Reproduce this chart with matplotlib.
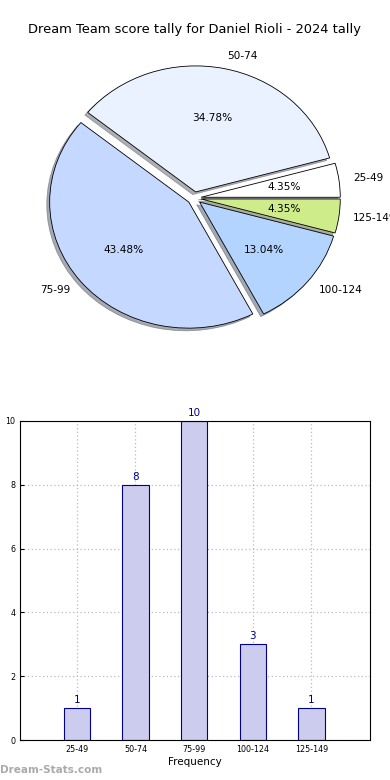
import matplotlib
matplotlib.use("Agg")
import matplotlib.pyplot as plt

categories = ["25-49", "50-74", "75-99", "100-124", "125-149"]
counts = [1, 8, 10, 3, 1]
pie_colors = ["#ffffff", "#eaf1ff", "#c5d8ff", "#b3d4ff", "#cfec8a"]
title = "Dream Team score tally for Daniel Rioli - 2024 tally"

fig = plt.figure(figsize=(3.9, 7.8), dpi=100)
fig.text(0.5, 1 - 30 / 780, title, ha="center", va="center", fontsize=9.4)

ax1 = fig.add_axes([0.052, 0.544, 0.892, 0.404])
wedges, texts, autotexts = ax1.pie(
    counts, labels=categories, colors=pie_colors, autopct="%.2f%%",
    explode=[0.05] * len(counts), shadow=dict(ox=-0.015, oy=-0.015, shade=0.6),
    startangle=0,
    wedgeprops=dict(edgecolor="black", linewidth=0.6),
    textprops=dict(fontsize=7.6))
for t in autotexts:
    t.set_fontsize(7.6)
ax1.set_aspect("auto")
ax1.set_xlim(-1.25, 1.25)
ax1.set_ylim(-1.25, 1.25)

ax2 = fig.add_axes([20 / 390, 1 - 740 / 780, 350 / 390, 319 / 780])
x = list(range(len(categories)))
bars = ax2.bar(x, counts, width=0.45, color="#ccccee", edgecolor="#000088", linewidth=0.8, zorder=2)
for xi, c in zip(x, counts):
    ax2.text(xi, c + 0.1, str(c), ha="center", va="bottom", color="#000088", fontsize=7.5)
ax2.set_xlim(-0.97, 5.0)
ax2.set_ylim(0, 10)
ax2.set_xticks(x)
ax2.set_xticklabels(categories, fontsize=5.8)
ax2.set_yticks(range(0, 11, 2))
ax2.tick_params(axis="y", labelsize=5.8)
ax2.tick_params(direction="in", length=3, top=False, right=False)
ax2.grid(True, linestyle=(0, (1, 2)), color="#bbbbbb", linewidth=0.9, zorder=0)
ax2.set_axisbelow(True)
ax2.set_xlabel("Frequency", fontsize=7.5, labelpad=2)
for s in ax2.spines.values():
    s.set_linewidth(0.8)
fig.text(-0.01, 1 - 580 / 780, "Dream Team Tally", rotation=90, ha="center", va="center", fontsize=7)

fig.text(0.0, 1 - 770 / 780, "Dream-Stats.com", ha="left", va="center", fontsize=7.5,
         color="#aaaaaa", fontweight="bold")

fig.savefig("out.png", dpi=100)
